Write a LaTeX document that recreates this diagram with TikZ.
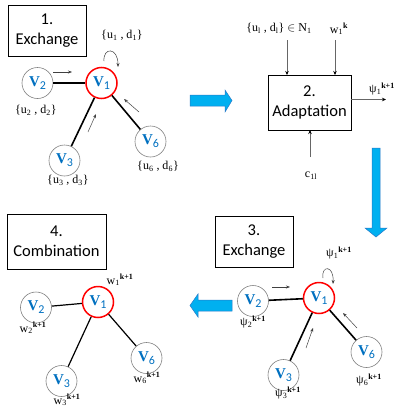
\documentclass[tikz,border=0pt]{standalone}
\usepackage{fontspec}
\setmainfont{Liberation Serif}
\newfontfamily\boxfont{Carlito}
\usetikzlibrary{arrows.meta}
\definecolor{vblue}{RGB}{0,112,192}
\definecolor{afill}{RGB}{0,176,240}
\definecolor{aline}{RGB}{40,120,200}
\newcommand{\vl}[1]{{\fontsize{15}{15}\selectfont\bfseries V\raisebox{-3pt}{\boxfont\mdseries\fontsize{12}{12}\selectfont #1}}}
\tikzset{
  stepbox/.style={draw, line width=0.8pt, align=center, font=\boxfont\fontsize{16.5}{20}\selectfont, inner sep=0pt},
  vnode/.style={circle, draw=gray, line width=0.6pt, minimum size=31pt, inner sep=0pt, text=vblue},
  cnode/.style={circle, draw=red, line width=1.5pt, minimum size=31pt, inner sep=0pt, text=vblue},
  edgeA/.style={line width=1.6pt},
  edgeB/.style={line width=1.2pt},
  small/.style={draw=black!75, line width=0.5pt, -{Stealth[length=4pt,width=3pt]}},
  inarrow/.style={draw=black!60, line width=0.6pt, -{Stealth[length=4pt,width=3.5pt,color=black]}},
  lab/.style={font=\fontsize{12}{12}\selectfont, inner sep=0pt},
  bigarrow/.style={fill=afill, draw=aline, line width=0.5pt},
}
\begin{document}
\begin{tikzpicture}[x=1pt,y=-1pt]
\useasboundingbox (0,0) rectangle (395,413);
% ---------- Panel 1 ----------
\node[stepbox, minimum width=78pt, minimum height=51pt] (b1) at (47,30.5) {1.\\Exchange};
\node[cnode] (a1) at (101.5,83) {\vl{1}};
\node[vnode] (a2) at (37.5,83) {\vl{2}};
\node[vnode] (a3) at (64.5,160.5) {\vl{3}};
\node[vnode] (a6) at (150.5,141.5) {\vl{6}};
\draw[edgeA] (a2) -- (a1);
\draw[edgeA] (a3) -- (a1);
\draw[edgeA] (a6) -- (a1);
\node[lab] (l1) at (122,35) {\{u\textsubscript{1} , d\textsubscript{1}\}};
\node[lab] (l2) at (36,110) {\{u\textsubscript{2} , d\textsubscript{2}\}};
\node[lab] (l3) at (68,180) {\{u\textsubscript{3} , d\textsubscript{3}\}};
\node[lab] (l6) at (158,166) {\{u\textsubscript{6} , d\textsubscript{6}\}};
\coordinate (p1s) at (104,61); \coordinate (p1e) at (118,67);
\draw[small] (p1s) .. controls (103,47) and (118,47) .. (p1e);
\coordinate (p2s) at (53,72); \coordinate (p2e) at (72,72);
\draw[small] (p2s) -- (p2e);
\coordinate (p3s) at (88,132); \coordinate (p3e) at (96,114);
\draw[small] (p3s) -- (p3e);
\coordinate (p6s) at (139,112); \coordinate (p6e) at (124,99);
\draw[small] (p6s) -- (p6e);
% ---------- big arrows ----------
\draw[bigarrow] (190,95) -- (225,95) -- (225,90) -- (232,100.5) -- (225,112) -- (225,106) -- (190,106) -- cycle;
\draw[bigarrow] (372,148) -- (380,148) -- (380,228) -- (387,228) -- (376,237) -- (365,228) -- (372,228) -- cycle;
\draw[bigarrow] (232,300) -- (198,300) -- (198,294) -- (190,305.5) -- (198,317) -- (198,311) -- (232,311) -- cycle;
% ---------- Panel 2 ----------
\node[stepbox, minimum width=83pt, minimum height=55pt] (b2) at (309.5,102.5) {2.\\Adaptation};
\node[lab] (in1) at (279,28) {\{u\textsubscript{l} , d\textsubscript{l}\} $\in$ N\textsubscript{1}};
\node[lab] (in2) at (339,29) {w\textsubscript{1}\textsuperscript{\textbf{k}}};
\node[lab] (out) at (382,89) {ψ\textsubscript{1}\textsuperscript{\textbf{k+1}}};
\node[lab] (cin) at (311,176) {c\textsubscript{1l}};
\coordinate (i1s) at (287,40); \coordinate (i1e) at (287,75);
\coordinate (i2s) at (335,40); \coordinate (i2e) at (335,75);
\coordinate (os) at (351,99.5); \coordinate (oe) at (386,99.5);
\coordinate (cs) at (310,157); \coordinate (ce) at (310,130);
\draw[inarrow] (i1s) -- (i1e);
\draw[inarrow] (i2s) -- (i2e);
\draw[inarrow] (os) -- (oe);
\draw[inarrow] (cs) -- (ce);
% ---------- Panel 3 ----------
\node[stepbox, minimum width=78pt, minimum height=51pt] (b3) at (254,241.5) {3.\\Exchange};
\node[cnode] (c1) at (319,298) {\vl{1}};
\node[vnode] (c2) at (253,301) {\vl{2}};
\node[vnode] (c3) at (283.5,375) {\vl{3}};
\node[vnode] (c6) at (366.5,352) {\vl{6}};
\draw[edgeA] (c2) -- (c1);
\draw[edgeA] (c3) -- (c1);
\draw[edgeA] (c6) -- (c1);
\node[lab] (m1) at (339,253) {ψ\textsubscript{1}\textsuperscript{\textbf{k+1}}};
\node[lab] (m2) at (253,322) {ψ\textsubscript{2}\textsuperscript{\textbf{k+1}}};
\node[lab] (m3) at (288,393) {ψ\textsubscript{3}\textsuperscript{\textbf{k+1}}};
\node[lab] (m6) at (369,380) {ψ\textsubscript{6}\textsuperscript{\textbf{k+1}}};
\coordinate (q1s) at (323,278); \coordinate (q1e) at (333,284);
\draw[small] (q1s) .. controls (321,265) and (334,265) .. (q1e);
\coordinate (q2s) at (272,287); \coordinate (q2e) at (290,287);
\draw[small] (q2s) -- (q2e);
\coordinate (q3s) at (306,348); \coordinate (q3e) at (313,328);
\draw[small] (q3s) -- (q3e);
\coordinate (q6s) at (357,328); \coordinate (q6e) at (343,313);
\draw[small] (q6s) -- (q6e);
% ---------- Panel 4 ----------
\node[stepbox, minimum width=99pt, minimum height=55pt] (b4) at (56.5,241.5) {4.\\Combination};
\node[cnode] (d1) at (98,302) {\vl{1}};
\node[vnode] (d2) at (36,307.5) {\vl{2}};
\node[vnode] (d3) at (61.5,381) {\vl{3}};
\node[vnode] (d6) at (146.5,358) {\vl{6}};
\draw[edgeB] (d2) -- (d1);
\draw[edgeB] (d3) -- (d1);
\draw[edgeB] (d6) -- (d1);
\node[lab] (n1) at (120,280) {w\textsubscript{1}\textsuperscript{\textbf{k+1}}};
\node[lab] (n2) at (33,328) {w\textsubscript{2}\textsuperscript{\textbf{k+1}}};
\node[lab] (n3) at (67,400) {w\textsubscript{3}\textsuperscript{\textbf{k+1}}};
\node[lab] (n6) at (147,378) {w\textsubscript{6}\textsuperscript{\textbf{k+1}}};
\end{tikzpicture}
\end{document}
